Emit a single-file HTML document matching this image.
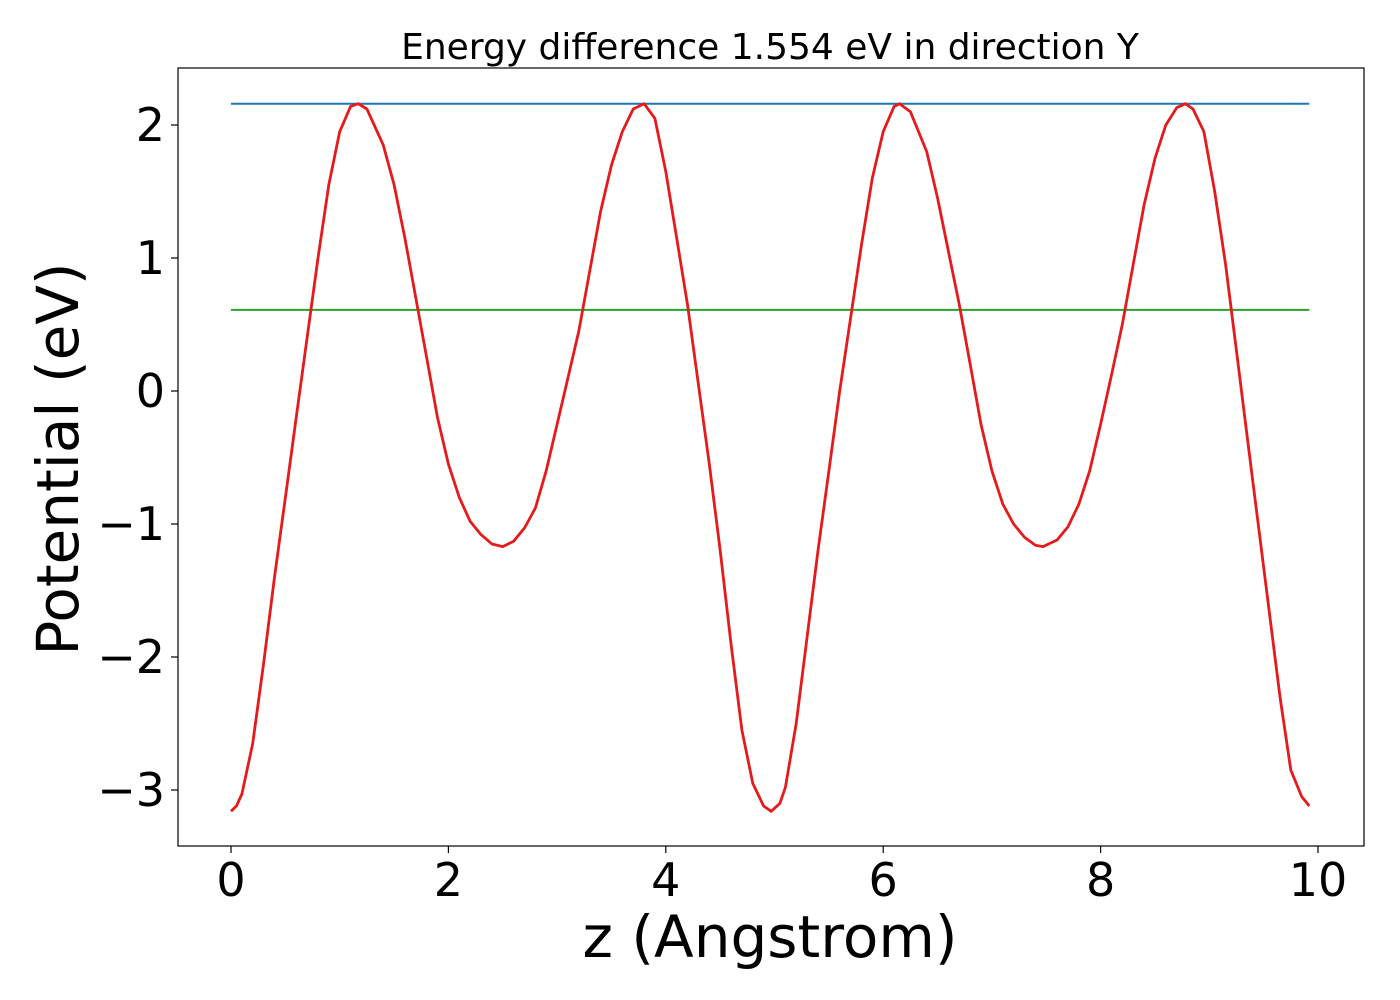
<!DOCTYPE html>
<html><head><meta charset="utf-8"><style>
html,body{margin:0;padding:0;background:#fff;}
svg{display:block;font-family:"DejaVu Sans","Liberation Sans",sans-serif;}
</style></head><body>
<svg id="chart" width="1400" height="1000" viewBox="0 0 1400 1000">
<rect width="1400" height="1000" fill="#fff"/>
<text x="770" y="59" font-size="36" text-anchor="middle">Energy difference 1.554 eV in direction Y</text>
<g id="plot"></g>
<rect x="178" y="68" width="1186" height="778" fill="none" stroke="#000" stroke-width="1.2"/>
<text x="770" y="957" font-size="58" text-anchor="middle">z (Angstrom)</text>
<text transform="translate(78,459) rotate(-90)" font-size="58" text-anchor="middle">Potential (eV)</text>
</svg>
<script>
const zVals = [0,0.05,0.1,0.2,0.3,0.4,0.5,0.6,0.7,0.8,0.9,1.0,1.1,1.17,1.25,1.4,1.5,1.6,1.7,1.8,1.9,2.0,2.1,2.2,2.3,2.4,2.5,2.6,2.7,2.8,2.9,3.0,3.1,3.2,3.3,3.4,3.5,3.6,3.7,3.8,3.9,4.0,4.1,4.2,4.3,4.4,4.5,4.6,4.7,4.8,4.9,4.97,5.05,5.1,5.2,5.3,5.4,5.5,5.6,5.7,5.8,5.9,6.0,6.1,6.15,6.25,6.4,6.5,6.6,6.7,6.8,6.9,7.0,7.1,7.2,7.3,7.4,7.47,7.6,7.7,7.8,7.9,8.0,8.1,8.2,8.3,8.4,8.5,8.6,8.7,8.78,8.85,8.95,9.05,9.15,9.25,9.35,9.45,9.55,9.65,9.75,9.85,9.92];
const potVals = [-3.16,-3.12,-3.03,-2.65,-2.05,-1.4,-0.8,-0.2,0.4,1.0,1.55,1.95,2.14,2.16,2.12,1.85,1.55,1.15,0.7,0.25,-0.2,-0.55,-0.8,-0.98,-1.08,-1.15,-1.17,-1.13,-1.03,-0.88,-0.6,-0.25,0.1,0.45,0.9,1.35,1.7,1.95,2.12,2.16,2.05,1.65,1.15,0.65,0.05,-0.55,-1.2,-1.9,-2.55,-2.95,-3.12,-3.16,-3.1,-2.98,-2.5,-1.85,-1.2,-0.6,0.0,0.55,1.1,1.6,1.95,2.14,2.16,2.1,1.8,1.45,1.05,0.65,0.2,-0.25,-0.6,-0.85,-1.0,-1.1,-1.16,-1.17,-1.12,-1.02,-0.85,-0.6,-0.25,0.12,0.5,0.95,1.4,1.75,2.0,2.13,2.16,2.12,1.95,1.5,0.95,0.3,-0.35,-1.0,-1.65,-2.3,-2.85,-3.05,-3.12];
const maxLevel = [2.16];
const midLevel = [0.61];
const xTicks = [0,2,4,6,8,10];
const yTicks = [2,1,0,-1,-2,-3];
const yTickLabels = ["2","1","0","\u22121","\u22122","\u22123"];

const X = v => 231 + v * 108.7;
const Y = v => 391 - v * 133;
const NS = "http://www.w3.org/2000/svg";
const g = document.getElementById('plot');
function mk(tag, attrs){const e=document.createElementNS(NS,tag);for(const k in attrs)e.setAttribute(k,attrs[k]);g.appendChild(e);return e;}

xTicks.forEach(t=>{
  const l=mk('line',{x1:X(t),x2:X(t),y1:846,y2:853,stroke:'#000','stroke-width':1.2});
  
  
  const tx=mk('text',{x:X(t),y:896,'font-size':46,'text-anchor':'middle'});
  tx.textContent=String(t);
  
  
});
yTicks.forEach((t,i)=>{
  const l=mk('line',{x1:171,x2:178,y1:Y(t),y2:Y(t),stroke:'#000','stroke-width':1.2});
  
  
  const tx=mk('text',{x:165,y:Y(t)+16,'font-size':46,'text-anchor':'end'});
  tx.textContent=yTickLabels[i];
  
  
});
const x0=zVals[0], x1=zVals[zVals.length-1];
const bl=mk('line',{x1:X(x0),x2:X(x1),y1:Y(maxLevel[0]),y2:Y(maxLevel[0]),stroke:'#1f77b4','stroke-width':2});


const gl=mk('line',{x1:X(x0),x2:X(x1),y1:Y(midLevel[0]),y2:Y(midLevel[0]),stroke:'#2ca02c','stroke-width':2});


const pts=zVals.map((z,i)=>X(z).toFixed(1)+','+Y(potVals[i]).toFixed(1)).join(' ');
const pl=mk('polyline',{points:pts,fill:'none',stroke:'#e41a1c','stroke-width':2.8,'stroke-linejoin':'round'});


</script>
</body></html>
